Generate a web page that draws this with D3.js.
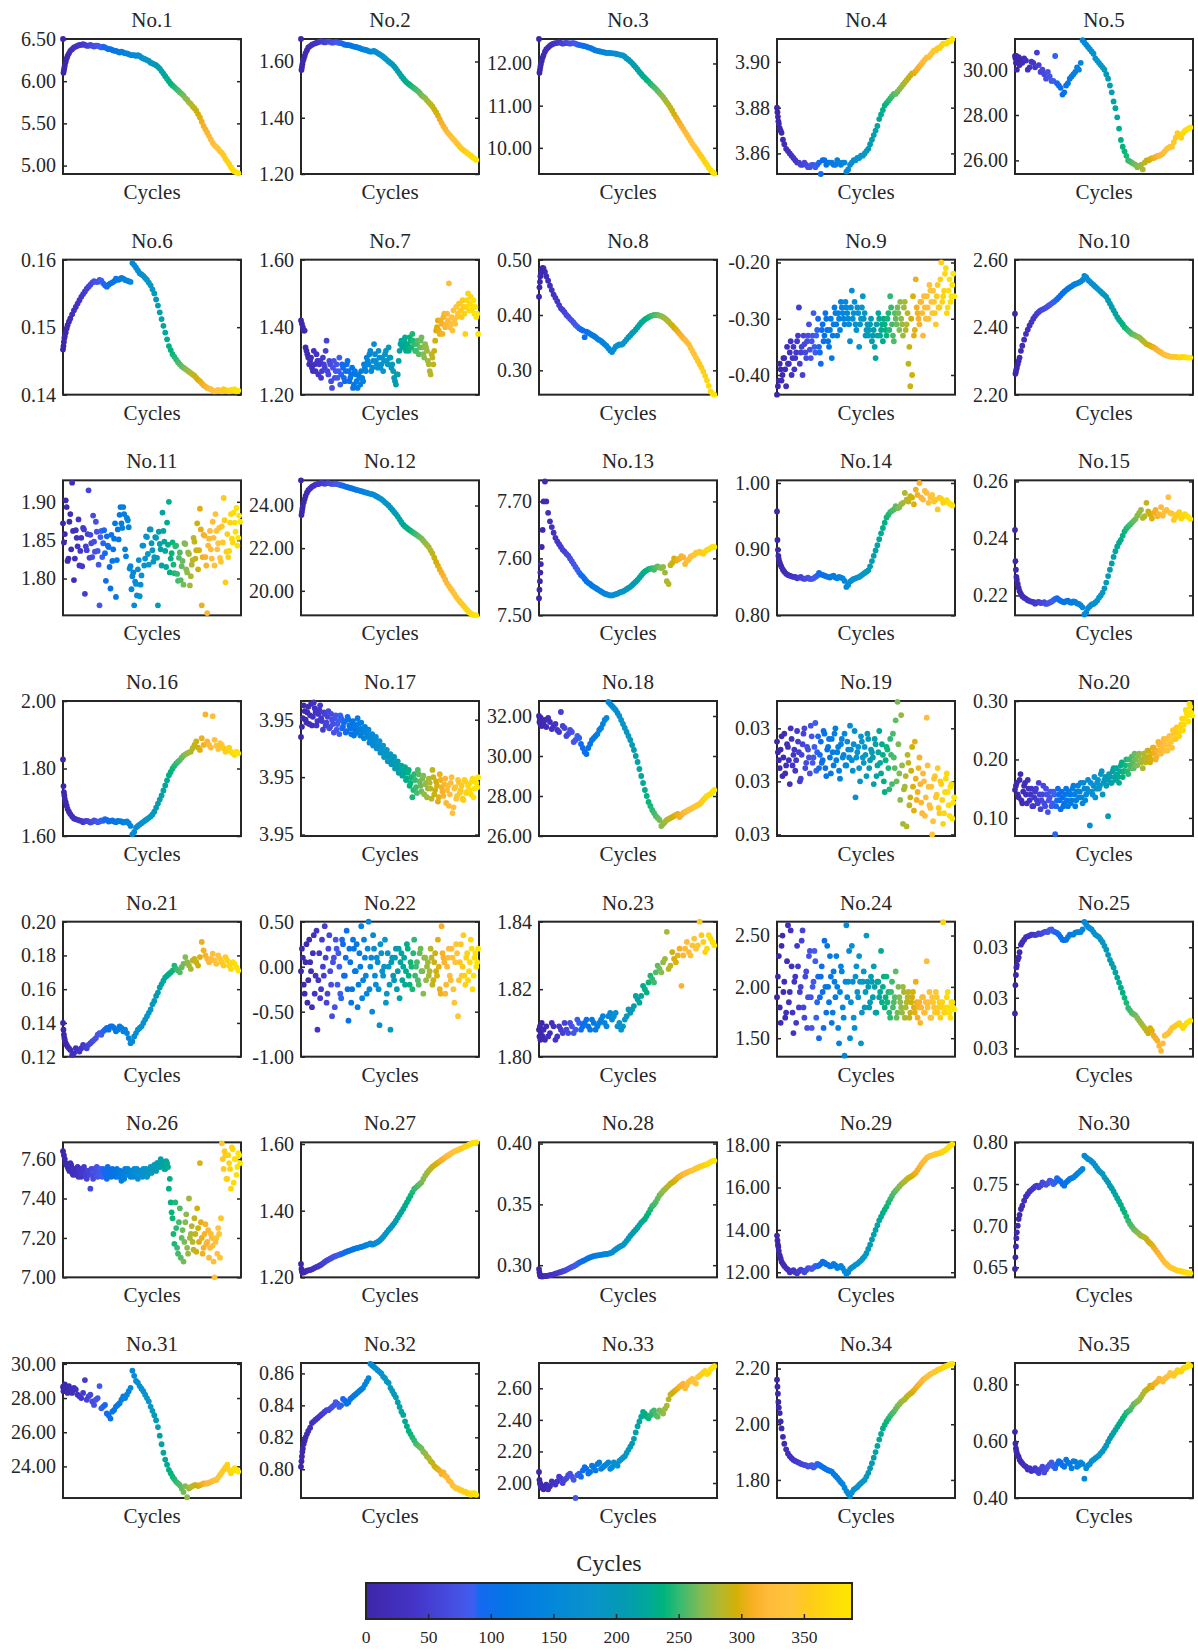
<!DOCTYPE html>
<meta charset="utf-8">
<title>Features vs cycles</title>
<style>
body { margin: 0; background: #fff; }
text { font-family: 'Liberation Serif', 'DejaVu Serif', serif; fill: #262626; }
</style>
<script src="https://d3js.org/d3.v7.min.js"></script>
<div id="chart"></div>
<script>

// sampled cycles (x positions): main grid, in-between grid, dense grids for the noisy panels
var cyc = [0,1,2,3,4,6,8,10,13,16,
  24,32,40,48,56,64,72,80,88,96,
  104,112,120,128,136,144,152,160,168,176,
  184,192,200,208,216,224,232,240,248,256,
  264,272,280,288,296,304,312,320,328,336,
  344,352,360,368,376,384];
var cycMid = [20,28,36,44,52,60,68,76,84,92,
  100,108,116,124,132,140,148,156,164,172,
  180,188,196,204,212,220,228,236,244,252,
  260,268,276,284,292,300,308,316,324,332,
  340,348,356,364,372,380];
var cycDense = [0,4,8,12,16,20,24,28,32,36,
  40,44,48,52,56,60,64,68,72,76,
  80,84,88,92,96,100,104,108,112,116,
  120,124,128,132,136,140,144,148,152,156,
  160,164,168,172,176,180,184,188,192,196,
  200,204,208,212,216,220,224,228,232,236,
  240,244,248,252,256,260,264,268,272,276,
  280,284,288,292,296,300,304,308,312,316,
  320,324,328,332,336,340,344,348,352,356,
  360,364,368,372,376,380,384,388];
var cycDense2 = [2,6,10,14,18,22,26,30,34,38,
  42,46,50,54,58,62,66,70,74,78,
  82,86,90,94,98,102,106,110,114,118,
  122,126,130,134,138,142,146,150,154,158,
  162,166,170,174,178,182,186,190,194,198,
  202,206,210,214,218,222,226,230,234,238,
  242,246,250,254,258,262,266,270,274,278,
  282,286,290,294,298,302,306,310,314,318,
  322,326,330,334,338,342,346,350,354,358,
  362,366,370,374,378,382,386];

var v1 = [6.50,6.10,6.13,6.16,6.19,6.23,6.27,6.30,6.33,6.36,
  6.40,6.42,6.43,6.43,6.42,6.42,6.42,6.41,6.41,6.39,
  6.38,6.36,6.35,6.35,6.33,6.32,6.31,6.30,6.30,6.27,
  6.25,6.22,6.20,6.17,6.12,6.06,6.00,5.95,5.91,5.87,
  5.83,5.78,5.73,5.68,5.61,5.52,5.43,5.35,5.27,5.22,
  5.17,5.12,5.05,4.98,4.93,4.91];
var m1 = [6.38,6.41,6.43,6.44,6.42,6.43,6.41,6.42,6.40,6.40,
  6.38,6.37,6.36,6.34,6.34,6.33,6.31,6.31,6.31,6.28,
  6.26,6.24,6.21,6.19,6.15,6.09,6.03,5.97,5.93,5.89,
  5.85,5.80,5.75,5.70,5.65,5.57,5.47,5.39,5.31,5.24,
  5.20,5.15,5.08,5.02,4.95,4.92];
var v2 = [1.68,1.57,1.58,1.59,1.60,1.61,1.62,1.63,1.64,1.65,
  1.66,1.665,1.67,1.67,1.67,1.67,1.668,1.668,1.665,1.66,
  1.658,1.655,1.652,1.648,1.643,1.64,1.635,1.638,1.63,1.622,
  1.612,1.60,1.59,1.575,1.557,1.54,1.525,1.515,1.505,1.495,
  1.48,1.47,1.455,1.44,1.42,1.395,1.37,1.35,1.335,1.32,
  1.305,1.29,1.28,1.27,1.26,1.25];
var m2 = [1.655,1.663,1.668,1.672,1.668,1.671,1.667,1.669,1.666,1.663,
  1.659,1.657,1.653,1.65,1.645,1.642,1.637,1.636,1.634,1.626,
  1.617,1.606,1.595,1.583,1.566,1.548,1.532,1.52,1.51,1.50,
  1.488,1.475,1.462,1.448,1.43,1.408,1.382,1.36,1.342,1.327,
  1.312,1.297,1.285,1.275,1.265,1.255];
var v3 = [12.58,11.78,11.85,11.92,11.98,12.06,12.14,12.20,12.28,12.34,
  12.42,12.47,12.49,12.49,12.48,12.48,12.48,12.47,12.44,12.42,
  12.40,12.37,12.33,12.30,12.28,12.26,12.25,12.24,12.23,12.21,
  12.19,12.12,12.05,11.96,11.86,11.75,11.66,11.57,11.48,11.40,
  11.30,11.20,11.08,10.95,10.80,10.66,10.52,10.38,10.24,10.10,
  9.98,9.85,9.73,9.60,9.47,9.39];
var m3 = [12.38,12.45,12.48,12.50,12.47,12.49,12.47,12.48,12.45,12.43,
  12.41,12.38,12.35,12.31,12.29,12.27,12.25,12.25,12.24,12.22,
  12.20,12.16,12.09,12.01,11.91,11.80,11.70,11.61,11.52,11.44,
  11.35,11.25,11.14,11.02,10.88,10.73,10.59,10.45,10.31,10.17,
  10.04,9.92,9.79,9.66,9.53,9.43];
var v4 = [3.880,3.878,3.876,3.874,3.873,3.871,3.870,3.869,3.866,3.864,
  3.861,3.859,3.857,3.856,3.855,3.855,3.854,3.855,3.855,3.851,
  3.857,3.856,3.856,3.855,3.856,3.856,3.852,3.855,3.857,3.858,
  3.859,3.860,3.862,3.866,3.870,3.875,3.879,3.882,3.884,3.886,
  3.887,3.889,3.891,3.893,3.895,3.896,3.898,3.900,3.902,3.903,
  3.905,3.906,3.907,3.908,3.909,3.910];
var m4 = [3.862,3.860,3.858,3.856,3.855,3.856,3.854,3.855,3.854,3.856,
  3.857,3.855,3.856,3.855,3.857,3.855,3.856,3.853,3.856,3.857,
  3.858,3.859,3.861,3.864,3.868,3.872,3.877,3.881,3.883,3.885,
  3.886,3.888,3.890,3.892,3.894,3.895,3.897,3.899,3.901,3.902,
  3.904,3.905,3.906,3.908,3.908,3.909];
var v5 = [30.6,30.5,30.3,30.6,30.0,30.4,30.55,30.2,30.45,30.3,
  30.4,30.1,30.3,30.75,29.9,29.8,29.9,29.5,30.6,29.3,
  28.9,29.3,29.6,29.8,30.1,30.3,31.2,31.0,30.8,30.5,
  30.3,30.1,29.8,29.3,28.6,27.9,26.9,26.4,26.0,25.9,
  25.8,25.75,25.6,26.0,26.05,26.1,26.2,26.25,26.4,26.55,
  26.6,27.0,27.1,27.2,27.35,27.45];
var m5 = [30.5,30.0,30.35,30.1,30.2,30.0,29.6,29.7,29.5,29.4,
  29.2,29.0,29.4,29.7,29.9,30.0,31.3,31.1,30.9,30.7,
  30.4,30.2,30.0,29.6,29.0,28.3,27.4,26.6,26.2,25.95,
  25.85,25.7,25.8,25.9,26.0,26.1,26.15,26.2,26.3,26.5,
  26.6,26.8,27.2,27.0,27.3,27.4];
var v6 = [0.1467,0.1472,0.1478,0.1484,0.1487,0.1492,0.1498,0.1503,0.1508,0.1513,
  0.1525,0.1535,0.1545,0.1553,0.1560,0.1566,0.1567,0.1570,0.1565,0.1560,
  0.1565,0.1568,0.1570,0.1573,0.1570,0.1568,0.1595,0.1588,0.1580,0.1576,
  0.1570,0.1562,0.1550,0.1532,0.1512,0.1492,0.1472,0.1460,0.1452,0.1445,
  0.1440,0.1436,0.1432,0.1428,0.1422,0.1417,0.1412,0.1409,0.1406,0.1406,
  0.1406,0.1408,0.1406,0.1407,0.1408,0.1406];
var m6 = [0.1519,0.1530,0.1540,0.1549,0.1557,0.1563,0.1568,0.1567,0.1569,0.1562,
  0.1563,0.1566,0.1572,0.1571,0.1572,0.1569,0.1567,0.1592,0.1584,0.1578,
  0.1573,0.1566,0.1556,0.1541,0.1522,0.1502,0.1482,0.1466,0.1456,0.1448,
  0.1442,0.1438,0.1434,0.1430,0.1425,0.1420,0.1414,0.1410,0.1408,0.1405,
  0.1407,0.1405,0.1407,0.1405,0.1407,0.1405];
var v7 = [1.42,1.40,1.39,1.33,1.31,1.30,1.28,1.33,1.27,1.30,
  1.29,1.25,1.31,1.28,1.36,1.26,1.29,1.22,1.30,1.27,
  1.25,1.31,1.26,1.28,1.24,1.29,1.27,1.25,1.28,1.23,
  1.26,1.22,1.25,1.27,1.24,1.28,1.31,1.29,1.33,1.28,
  1.35,1.30,1.28,1.31,1.29,1.27,1.32,1.30,1.34,1.31,
  1.29,1.25,1.23,1.26,1.33,1.36,1.35,1.37,1.34,1.33,
  1.36,1.38,1.35,1.33,1.36,1.34,1.37,1.32,1.35,1.33,
  1.29,1.26,1.31,1.33,1.39,1.42,1.38,1.41,1.43,1.40,
  1.44,1.53,1.41,1.39,1.42,1.46,1.44,1.47,1.43,1.46,
  1.38,1.48,1.45,1.49,1.46,1.44,1.43,1.38];
var n7 = [1.41,1.39,1.34,1.32,1.29,1.31,1.27,1.29,1.32,1.26,
  1.30,1.27,1.29,1.33,1.27,1.30,1.24,1.28,1.25,1.29,
  1.27,1.23,1.29,1.25,1.27,1.30,1.24,1.26,1.22,1.27,
  1.24,1.26,1.23,1.25,1.29,1.27,1.30,1.32,1.27,1.30,
  1.32,1.29,1.33,1.28,1.31,1.30,1.33,1.29,1.31,1.28,
  1.27,1.24,1.26,1.30,1.35,1.34,1.36,1.33,1.35,1.37,
  1.34,1.36,1.33,1.35,1.32,1.36,1.34,1.31,1.34,1.30,
  1.27,1.32,1.29,1.36,1.40,1.39,1.42,1.38,1.44,1.41,
  1.42,1.40,1.43,1.45,1.41,1.43,1.47,1.45,1.48,1.44,
  1.46,1.50,1.47,1.45,1.48,1.46,1.44];
var v8 = [0.433,0.45,0.46,0.47,0.475,0.482,0.485,0.484,0.478,0.47,
  0.453,0.437,0.425,0.412,0.405,0.397,0.39,0.382,0.376,0.372,
  0.37,0.366,0.362,0.357,0.353,0.347,0.34,0.333,0.343,0.347,
  0.348,0.356,0.363,0.37,0.378,0.386,0.392,0.396,0.399,0.40,
  0.399,0.396,0.391,0.384,0.377,0.37,0.362,0.355,0.347,0.335,
  0.323,0.311,0.298,0.282,0.262,0.256];
var m8 = [0.462,0.445,0.431,0.418,0.409,0.40,0.393,0.386,0.379,0.374,
  0.36,0.368,0.364,0.36,0.355,0.350,0.344,0.336,0.338,0.345,
  0.346,0.352,0.36,0.367,0.374,0.382,0.389,0.394,0.398,0.40,
  0.40,0.398,0.394,0.388,0.381,0.374,0.366,0.358,0.351,0.341,
  0.329,0.317,0.305,0.29,0.272,0.258];
var v9 = [-0.435,-0.41,-0.39,-0.40,-0.37,-0.42,-0.38,-0.36,-0.40,-0.35,
  -0.37,-0.34,-0.28,-0.36,-0.40,-0.345,-0.37,-0.33,-0.355,-0.34,
  -0.29,-0.36,-0.32,-0.35,-0.38,-0.31,-0.33,-0.30,-0.34,-0.32,
  -0.37,-0.31,-0.29,-0.33,-0.30,-0.27,-0.29,-0.31,-0.28,-0.30,
  -0.34,-0.25,-0.29,-0.31,-0.28,-0.35,-0.30,-0.26,-0.29,-0.32,
  -0.33,-0.31,-0.34,-0.32,-0.37,-0.33,-0.30,-0.32,-0.34,-0.31,
  -0.33,-0.29,-0.26,-0.31,-0.34,-0.30,-0.28,-0.32,-0.30,-0.33,
  -0.27,-0.31,-0.38,-0.42,-0.40,-0.33,-0.23,-0.29,-0.31,-0.27,
  -0.33,-0.28,-0.26,-0.30,-0.25,-0.29,-0.27,-0.31,-0.24,-0.28,
  -0.20,-0.26,-0.22,-0.29,-0.25,-0.27,-0.24,-0.26];
var n9 = [-0.42,-0.38,-0.41,-0.37,-0.39,-0.35,-0.38,-0.34,-0.37,-0.39,
  -0.36,-0.33,-0.38,-0.35,-0.33,-0.36,-0.34,-0.31,-0.37,-0.33,
  -0.35,-0.33,-0.30,-0.36,-0.32,-0.34,-0.29,-0.32,-0.35,-0.30,
  -0.33,-0.28,-0.31,-0.29,-0.32,-0.28,-0.30,-0.27,-0.29,-0.31,
  -0.28,-0.30,-0.27,-0.32,-0.29,-0.31,-0.28,-0.30,-0.33,-0.31,
  -0.32,-0.30,-0.33,-0.35,-0.31,-0.29,-0.33,-0.31,-0.30,-0.32,
  -0.30,-0.32,-0.28,-0.33,-0.29,-0.31,-0.29,-0.27,-0.31,-0.28,
  -0.32,-0.29,-0.35,-0.30,-0.26,-0.32,-0.28,-0.30,-0.27,-0.29,
  -0.26,-0.30,-0.28,-0.24,-0.27,-0.25,-0.29,-0.26,-0.28,-0.23,
  -0.27,-0.25,-0.21,-0.28,-0.23,-0.26,-0.22];
var v10 = [2.44,2.262,2.268,2.275,2.28,2.29,2.30,2.31,2.33,2.345,
  2.38,2.405,2.425,2.44,2.45,2.455,2.462,2.47,2.478,2.488,
  2.50,2.51,2.518,2.525,2.53,2.535,2.552,2.54,2.53,2.52,
  2.51,2.50,2.49,2.47,2.45,2.43,2.415,2.40,2.39,2.38,
  2.375,2.37,2.36,2.35,2.345,2.34,2.332,2.325,2.318,2.315,
  2.312,2.312,2.31,2.312,2.31,2.31];
var m10 = [2.363,2.393,2.415,2.433,2.445,2.452,2.458,2.466,2.474,2.483,
  2.494,2.505,2.514,2.521,2.528,2.532,2.54,2.548,2.535,2.525,
  2.515,2.505,2.495,2.48,2.46,2.44,2.422,2.408,2.395,2.385,
  2.378,2.372,2.365,2.355,2.348,2.342,2.336,2.328,2.321,2.316,
  2.313,2.312,2.311,2.311,2.311,2.31];
var v11 = [1.872,1.858,1.893,1.826,1.884,1.925,1.798,1.863,1.842,1.817,
  1.853,1.866,1.78,1.837,1.915,1.857,1.828,1.848,1.874,1.836,
  1.765,1.862,1.846,1.833,1.855,1.841,1.787,1.823,1.852,1.776,
  1.864,1.883,1.872,1.893,1.838,1.879,1.867,1.816,1.803,1.765,
  1.793,1.812,1.777,1.804,1.843,1.826,1.854,1.818,1.864,1.837,
  1.828,1.853,1.765,1.845,1.817,1.862,1.836,1.873,1.90,1.826,
  1.847,1.807,1.843,1.797,1.834,1.816,1.792,1.845,1.808,1.832,
  1.803,1.824,1.848,1.837,1.812,1.891,1.765,1.857,1.828,1.755,
  1.852,1.838,1.874,1.817,1.862,1.846,1.827,1.868,1.905,1.795,
  1.858,1.836,1.884,1.847,1.873,1.892,1.853,1.874];
var n11 = [1.847,1.902,1.823,1.874,1.838,1.862,1.826,1.853,1.877,1.836,
  1.816,1.864,1.842,1.858,1.827,1.846,1.882,1.835,1.861,1.818,
  1.854,1.828,1.863,1.797,1.843,1.815,1.857,1.838,1.872,1.824,
  1.851,1.893,1.866,1.884,1.829,1.876,1.813,1.786,1.808,1.796,
  1.778,1.824,1.792,1.843,1.817,1.855,1.832,1.864,1.846,1.822,
  1.854,1.827,1.861,1.838,1.886,1.848,1.815,1.844,1.808,1.833,
  1.818,1.842,1.806,1.827,1.798,1.823,1.846,1.812,1.834,1.791,
  1.818,1.853,1.826,1.872,1.837,1.864,1.828,1.856,1.817,1.843,
  1.862,1.826,1.853,1.884,1.838,1.866,1.822,1.847,1.876,1.835,
  1.828,1.873,1.852,1.886,1.861,1.843,1.882];
var v12 = [25.18,23.55,23.70,23.85,23.98,24.15,24.30,24.45,24.60,24.72,
  24.88,24.98,25.02,25.04,25.04,25.03,25.02,25.00,24.95,24.90,
  24.85,24.80,24.74,24.70,24.65,24.60,24.55,24.50,24.40,24.30,
  24.15,24.00,23.80,23.60,23.35,23.10,22.95,22.82,22.70,22.58,
  22.45,22.25,22.05,21.75,21.35,21.00,20.70,20.35,20.10,19.85,
  19.60,19.40,19.20,19.00,18.88,18.85];
var m12 = [24.80,24.93,25.00,25.06,25.02,25.05,25.01,25.02,24.97,24.93,
  24.87,24.82,24.77,24.72,24.67,24.62,24.57,24.53,24.45,24.35,
  24.23,24.08,23.90,23.70,23.48,23.22,23.02,22.88,22.76,22.64,
  22.52,22.35,22.15,21.90,21.55,21.18,20.85,20.52,20.22,19.98,
  19.72,19.50,19.30,19.10,18.94,18.86];
var v13 = [7.53,7.545,7.56,7.575,7.59,7.62,7.65,7.70,7.735,7.70,
  7.665,7.645,7.63,7.62,7.612,7.605,7.595,7.585,7.575,7.568,
  7.56,7.555,7.55,7.546,7.542,7.538,7.536,7.535,7.537,7.54,
  7.542,7.546,7.55,7.556,7.562,7.57,7.577,7.581,7.583,7.584,
  7.584,7.585,7.56,7.588,7.60,7.598,7.604,7.59,7.598,7.605,
  7.61,7.612,7.608,7.615,7.618,7.62];
var m13 = [7.68,7.655,7.636,7.625,7.615,7.608,7.60,7.59,7.58,7.571,
  7.564,7.557,7.552,7.548,7.544,7.54,7.537,7.535,7.536,7.538,
  7.541,7.544,7.548,7.553,7.559,7.566,7.574,7.579,7.582,7.58,
  7.586,7.583,7.575,7.555,7.592,7.596,7.60,7.602,7.596,7.603,
  7.606,7.61,7.61,7.612,7.616,7.62];
var v14 = [0.957,0.914,0.899,0.89,0.885,0.88,0.876,0.873,0.869,0.866,
  0.861,0.859,0.858,0.857,0.856,0.856,0.855,0.856,0.86,0.862,
  0.86,0.858,0.859,0.857,0.858,0.856,0.843,0.851,0.855,0.857,
  0.86,0.864,0.868,0.882,0.898,0.915,0.932,0.948,0.956,0.96,
  0.962,0.968,0.985,0.972,0.978,0.99,1.0,0.975,0.985,0.978,
  0.972,0.96,0.976,0.972,0.97,0.966];
var m14 = [0.863,0.86,0.858,0.856,0.858,0.855,0.857,0.855,0.858,0.864,
  0.861,0.859,0.857,0.86,0.856,0.857,0.852,0.846,0.853,0.856,
  0.858,0.862,0.866,0.874,0.89,0.906,0.924,0.94,0.952,0.958,
  0.965,0.963,0.97,0.975,0.98,0.968,0.982,0.978,0.988,0.97,
  0.982,0.975,0.978,0.97,0.974,0.968];
var v15 = [0.243,0.232,0.229,0.2265,0.2255,0.224,0.2226,0.2215,0.2205,0.2197,
  0.2188,0.218,0.2177,0.2175,0.2173,0.2176,0.2172,0.2178,0.2188,0.2185,
  0.2178,0.218,0.2176,0.2179,0.2172,0.2165,0.2133,0.2155,0.2168,0.2175,
  0.2192,0.221,0.2245,0.229,0.2335,0.2372,0.2395,0.2425,0.2442,0.2455,
  0.2468,0.249,0.2472,0.2525,0.2485,0.249,0.2478,0.251,0.2495,0.2545,
  0.2487,0.2475,0.2492,0.2478,0.248,0.2468];
var m15 = [0.2192,0.2183,0.2178,0.2171,0.2177,0.2174,0.2170,0.2175,0.2183,0.2190,
  0.2181,0.2176,0.2182,0.2174,0.2177,0.2170,0.2158,0.2140,0.2162,0.2170,
  0.2182,0.2200,0.2225,0.2268,0.2312,0.2355,0.2385,0.2410,0.2435,0.2448,
  0.2462,0.2480,0.2500,0.2478,0.2495,0.2470,0.2500,0.2485,0.2480,0.2500,
  0.2490,0.2465,0.2485,0.2470,0.2485,0.2475];
var v16 = [1.827,1.748,1.73,1.72,1.71,1.70,1.69,1.68,1.672,1.665,
  1.652,1.648,1.645,1.644,1.643,1.642,1.644,1.643,1.645,1.648,
  1.645,1.643,1.645,1.643,1.642,1.638,1.605,1.625,1.634,1.642,
  1.65,1.658,1.672,1.696,1.72,1.75,1.78,1.80,1.815,1.825,
  1.838,1.845,1.85,1.87,1.862,1.89,1.96,1.87,1.955,1.868,
  1.875,1.86,1.855,1.85,1.84,1.845];
var m16 = [1.658,1.65,1.646,1.641,1.645,1.640,1.646,1.641,1.646,1.650,
  1.643,1.646,1.641,1.644,1.640,1.643,1.630,1.612,1.630,1.638,
  1.646,1.654,1.664,1.684,1.708,1.735,1.765,1.79,1.808,1.82,
  1.832,1.842,1.848,1.86,1.88,1.855,1.87,1.88,1.862,1.885,
  1.858,1.87,1.85,1.862,1.845,1.85];
var v17 = [3.9528,3.9541,3.9546,3.9538,3.9549,3.9543,3.9536,3.9552,3.9545,3.9539,
  3.9547,3.9541,3.9533,3.9544,3.9538,3.9546,3.9535,3.9540,3.9531,3.9543,
  3.9537,3.9530,3.9541,3.9535,3.9539,3.9532,3.9540,3.9534,3.9537,3.9529,
  3.9536,3.9541,3.9533,3.9538,3.9531,3.9535,3.9528,3.9533,3.9526,3.9530,
  3.9524,3.9528,3.9521,3.9525,3.9518,3.9522,3.9515,3.9519,3.9512,3.9516,
  3.9510,3.9514,3.9507,3.9511,3.9504,3.9508,3.9502,3.9507,3.9499,3.9505,
  3.9496,3.9486,3.9502,3.9493,3.9505,3.9497,3.9490,3.9501,3.9495,3.9486,
  3.9499,3.9492,3.9505,3.9488,3.9497,3.9483,3.9502,3.9493,3.9487,3.9499,
  3.9491,3.9480,3.9496,3.9475,3.9492,3.9485,3.9498,3.9489,3.9494,3.9484,
  3.9497,3.9490,3.9495,3.9488,3.9499,3.9492,3.9496,3.9500];
var n17 = [3.9535,3.9550,3.9540,3.9545,3.9537,3.9551,3.9542,3.9548,3.9536,3.9544,
  3.9550,3.9539,3.9545,3.9536,3.9542,3.9534,3.9544,3.9537,3.9541,3.9533,
  3.9539,3.9543,3.9534,3.9538,3.9531,3.9542,3.9536,3.9530,3.9539,3.9533,
  3.9531,3.9537,3.9529,3.9534,3.9527,3.9532,3.9530,3.9524,3.9529,3.9522,
  3.9526,3.9520,3.9523,3.9517,3.9521,3.9514,3.9518,3.9511,3.9515,3.9509,
  3.9512,3.9506,3.9510,3.9503,3.9507,3.9501,3.9505,3.9498,3.9503,3.9494,
  3.9500,3.9491,3.9498,3.9489,3.9502,3.9494,3.9499,3.9488,3.9496,3.9492,
  3.9496,3.9485,3.9500,3.9491,3.9494,3.9486,3.9498,3.9490,3.9495,3.9482,
  3.9494,3.9488,3.9500,3.9479,3.9493,3.9487,3.9496,3.9491,3.9485,3.9498,
  3.9489,3.9494,3.9491,3.9497,3.9486,3.9498,3.9493];
var v18 = [32.0,31.7,31.85,31.6,31.9,31.5,31.75,31.6,31.8,31.45,
  31.7,31.5,31.3,32.2,31.4,31.1,31.2,30.8,30.9,30.4,
  30.1,30.6,30.9,31.1,31.4,31.8,32.7,32.5,32.3,32.0,
  31.6,31.2,30.8,30.3,29.7,29.0,28.3,27.7,27.3,27.0,
  26.8,26.6,26.8,26.9,27.0,27.1,27.05,27.2,27.3,27.4,
  27.5,27.6,27.8,28.0,28.1,28.3];
var m18 = [31.9,31.35,31.6,31.2,31.5,31.0,31.3,30.7,31.0,30.6,
  30.2,30.4,30.8,31.0,31.3,31.6,31.9,32.6,32.4,32.15,
  31.8,31.4,31.0,30.55,30.0,29.35,28.65,28.0,27.5,27.15,
  26.9,26.5,26.7,26.85,26.95,27.05,26.95,27.15,27.25,27.35,
  27.45,27.55,27.7,27.9,28.05,28.2];
var v19 = [0.0315,0.0308,0.0312,0.0302,0.0318,0.0306,0.0313,0.0299,0.0316,0.0310,
  0.0304,0.0319,0.0311,0.0301,0.0314,0.0320,0.0307,0.0312,0.0303,0.0317,
  0.0309,0.0322,0.0311,0.0305,0.0315,0.0308,0.0318,0.0302,0.0313,0.0309,
  0.0316,0.0306,0.0320,0.0311,0.0304,0.0314,0.0309,0.0318,0.0306,0.0312,
  0.0321,0.0308,0.0314,0.0294,0.0311,0.0305,0.0317,0.0309,0.0313,0.0302,
  0.0316,0.0308,0.0311,0.0299,0.0314,0.0306,0.0319,0.0303,0.0310,0.0296,
  0.0313,0.0305,0.0316,0.0299,0.0309,0.0323,0.0330,0.0303,0.0325,0.0284,
  0.0298,0.0283,0.0307,0.0294,0.0313,0.0289,0.0301,0.0296,0.0309,0.0292,
  0.0303,0.0287,0.0324,0.0298,0.0290,0.0280,0.0301,0.0294,0.0305,0.0288,
  0.0299,0.0284,0.0296,0.0303,0.0291,0.0298,0.0286,0.0294];
var n19 = [0.0311,0.0305,0.0317,0.0309,0.0303,0.0314,0.0308,0.0320,0.0306,0.0312,
  0.0308,0.0315,0.0300,0.0310,0.0318,0.0305,0.0313,0.0309,0.0321,0.0307,
  0.0313,0.0304,0.0317,0.0310,0.0307,0.0319,0.0305,0.0312,0.0316,0.0303,
  0.0311,0.0318,0.0308,0.0313,0.0301,0.0316,0.0310,0.0306,0.0315,0.0309,
  0.0312,0.0304,0.0319,0.0309,0.0313,0.0300,0.0315,0.0307,0.0310,0.0318,
  0.0305,0.0312,0.0309,0.0316,0.0302,0.0311,0.0307,0.0314,0.0300,0.0308,
  0.0312,0.0297,0.0310,0.0318,0.0305,0.0300,0.0314,0.0293,0.0306,0.0297,
  0.0302,0.0310,0.0291,0.0304,0.0298,0.0315,0.0293,0.0305,0.0299,0.0288,
  0.0300,0.0294,0.0306,0.0291,0.0298,0.0285,0.0302,0.0295,0.0290,0.0300,
  0.0293,0.0288,0.0301,0.0296,0.0287,0.0299,0.0292];
var v20 = [0.148,0.16,0.135,0.175,0.125,0.155,0.14,0.165,0.13,0.15,
  0.12,0.145,0.13,0.16,0.115,0.14,0.125,0.15,0.11,0.135,
  0.12,0.145,0.072,0.13,0.14,0.115,0.135,0.125,0.15,0.12,
  0.14,0.13,0.155,0.12,0.145,0.135,0.16,0.125,0.15,0.14,
  0.165,0.087,0.145,0.155,0.135,0.16,0.15,0.175,0.14,0.165,
  0.155,0.103,0.17,0.16,0.185,0.165,0.175,0.16,0.19,0.17,
  0.18,0.2,0.175,0.19,0.205,0.185,0.2,0.19,0.21,0.195,
  0.185,0.205,0.2,0.215,0.195,0.21,0.22,0.2,0.215,0.225,
  0.21,0.23,0.215,0.235,0.225,0.24,0.22,0.245,0.235,0.25,
  0.24,0.26,0.25,0.27,0.28,0.265,0.29,0.275];
var n20 = [0.155,0.14,0.165,0.13,0.145,0.16,0.125,0.15,0.14,0.12,
  0.135,0.15,0.125,0.14,0.13,0.155,0.12,0.14,0.13,0.145,
  0.125,0.14,0.12,0.15,0.13,0.145,0.12,0.14,0.13,0.145,
  0.125,0.15,0.14,0.13,0.155,0.145,0.135,0.16,0.13,0.15,
  0.145,0.16,0.14,0.17,0.15,0.165,0.155,0.18,0.16,0.17,
  0.165,0.175,0.16,0.18,0.17,0.185,0.17,0.18,0.195,0.18,
  0.19,0.18,0.2,0.185,0.195,0.21,0.19,0.205,0.195,0.2,
  0.21,0.195,0.215,0.205,0.2,0.22,0.21,0.205,0.23,0.215,
  0.22,0.235,0.225,0.215,0.24,0.23,0.25,0.235,0.255,0.245,
  0.255,0.27,0.26,0.285,0.275,0.295,0.28];
var v21 = [0.140,0.136,0.133,0.131,0.130,0.128,0.127,0.126,0.125,0.124,
  0.122,0.124,0.125,0.126,0.127,0.129,0.131,0.134,0.135,0.137,
  0.138,0.137,0.136,0.137,0.136,0.131,0.129,0.134,0.137,0.140,
  0.144,0.148,0.153,0.158,0.163,0.167,0.169,0.171,0.172,0.170,
  0.175,0.176,0.172,0.178,0.174,0.188,0.180,0.176,0.181,0.175,
  0.178,0.174,0.177,0.172,0.175,0.171];
var m21 = [0.121,0.125,0.123,0.127,0.125,0.128,0.130,0.133,0.133,0.136,
  0.136,0.138,0.135,0.138,0.135,0.134,0.128,0.132,0.136,0.138,
  0.142,0.146,0.151,0.156,0.161,0.165,0.168,0.170,0.174,0.171,
  0.173,0.179,0.174,0.177,0.176,0.179,0.183,0.178,0.178,0.177,
  0.180,0.176,0.179,0.174,0.176,0.173];
var v22 = [-0.05,0.1,-0.3,0.25,-0.15,0.05,-0.45,0.35,-0.1,-0.7,
  0.15,-0.25,0.0,0.45,-0.4,0.2,-0.05,-0.55,0.1,0.3,
  -0.2,0.0,-0.35,0.25,-0.1,0.4,-0.6,0.05,-0.25,0.2,
  -0.05,-0.45,0.15,0.45,-0.15,0.1,-0.3,0.5,0.0,-0.5,
  0.2,-0.2,0.05,-0.65,0.15,-0.1,0.3,-0.3,0.0,-0.7,
  0.1,-0.15,0.2,-0.05,-0.35,0.15,0.0,-0.2,0.25,-0.1,
  0.05,-0.25,0.3,0.0,-0.15,0.15,-0.05,-0.3,0.1,0.0,
  -0.1,0.2,-0.2,0.05,-0.05,0.3,-0.25,0.45,0.1,-0.3,
  0.0,0.2,-0.15,0.1,-0.4,0.25,-0.55,0.05,-0.1,0.35,
  -0.2,0.15,-0.05,0.3,-0.25,0.1,0.0,0.2];
var n22 = [0.2,-0.2,0.05,-0.4,0.3,-0.05,0.15,-0.3,0.4,-0.15,
  -0.35,0.3,-0.1,0.1,-0.3,0.35,-0.2,0.05,-0.45,0.2,
  0.15,-0.3,0.3,-0.1,0.1,-0.25,0.2,-0.4,0.3,-0.05,
  0.25,-0.2,0.0,-0.35,0.3,-0.1,0.2,-0.25,0.1,0.35,
  -0.1,0.1,-0.25,0.25,-0.05,0.0,-0.4,0.15,-0.2,0.05,
  -0.1,0.1,-0.25,0.2,0.05,-0.15,0.1,-0.05,0.2,-0.2,
  0.0,0.15,-0.1,0.05,-0.2,0.2,-0.05,0.1,-0.15,0.05,
  -0.05,0.1,-0.15,0.15,-0.1,0.0,-0.3,0.15,0.05,-0.2,
  0.1,-0.1,0.2,-0.25,0.05,0.15,-0.15,0.25,0.0,-0.1,
  0.1,-0.15,0.05,0.2,-0.1,0.15,0.05];
var v23 = [1.808,1.806,1.809,1.805,1.807,1.810,1.806,1.808,1.805,1.809,
  1.807,1.809,1.806,1.808,1.810,1.807,1.809,1.808,1.810,1.809,
  1.811,1.808,1.810,1.809,1.811,1.810,1.812,1.811,1.813,1.810,
  1.809,1.812,1.813,1.815,1.817,1.818,1.820,1.822,1.823,1.825,
  1.826,1.828,1.837,1.827,1.829,1.830,1.821,1.832,1.831,1.833,
  1.832,1.840,1.834,1.832,1.835,1.833];
var m23 = [1.806,1.810,1.805,1.809,1.807,1.808,1.810,1.807,1.811,1.808,
  1.810,1.809,1.811,1.808,1.810,1.812,1.809,1.813,1.812,1.809,
  1.808,1.811,1.814,1.814,1.818,1.816,1.821,1.819,1.824,1.822,
  1.827,1.825,1.829,1.826,1.831,1.828,1.832,1.830,1.834,1.830,
  1.835,1.833,1.836,1.831,1.836,1.834];
var v24 = [1.9,2.3,1.65,2.5,2.05,1.75,2.6,1.95,2.2,1.55,
  2.1,2.4,1.8,2.0,2.55,1.7,2.15,1.9,2.35,1.6,
  2.05,2.25,1.85,1.5,2.1,1.95,2.45,1.75,2.0,2.3,
  1.65,2.15,1.9,2.0,1.45,2.2,1.8,1.33,2.6,2.05,
  1.5,2.4,1.7,2.1,1.95,2.3,1.45,2.05,1.8,2.5,
  2.0,1.85,2.05,2.2,1.75,2.05,1.9,2.35,2.0,1.8,
  2.1,1.95,1.7,2.05,1.85,2.15,1.75,1.9,1.8,2.0,
  1.7,1.85,1.95,1.75,1.9,1.8,2.05,1.7,1.85,1.8,
  1.9,1.75,2.25,1.85,1.7,1.9,1.8,1.95,1.75,1.85,
  1.8,2.63,1.75,1.9,1.8,1.7,1.85,1.78];
var n24 = [2.1,1.8,2.4,1.95,1.7,2.25,1.85,2.55,1.75,2.05,
  1.65,2.2,1.95,2.45,1.8,2.1,1.6,2.3,1.9,2.0,
  2.35,1.7,2.1,1.9,2.2,1.6,2.0,2.4,1.85,2.1,
  1.75,2.05,2.3,1.6,1.95,2.15,1.7,2.05,1.9,2.35,
  1.85,2.05,1.6,2.2,1.9,2.05,1.75,2.15,1.95,2.05,
  1.8,2.1,1.9,2.0,1.75,2.05,1.95,1.85,2.1,1.9,
  1.85,1.75,1.95,1.8,1.9,1.7,2.0,1.85,1.75,1.95,
  1.8,1.9,1.7,1.85,1.95,1.75,1.85,1.8,1.65,1.9,
  1.75,1.85,1.8,1.95,1.7,1.85,1.75,1.9,1.8,1.7,
  1.85,1.75,1.8,1.95,1.75,1.85,1.8];
var v25 = [0.02838,0.0295,0.0299,0.0302,0.0303,0.0305,0.0306,0.0308,0.0311,0.0312,
  0.0314,0.03146,0.0315,0.0315,0.03152,0.0316,0.0316,0.0317,0.0316,0.0315,
  0.0313,0.0313,0.0315,0.0315,0.0316,0.0316,0.0320,0.0318,0.0317,0.0315,
  0.0314,0.0312,0.0309,0.0305,0.0302,0.0298,0.0294,0.0290,0.0286,0.0284,
  0.0283,0.0281,0.0279,0.0277,0.0278,0.0275,0.0273,0.0269,0.0275,0.0276,
  0.0278,0.0279,0.0280,0.0278,0.0280,0.0281];
var m25 = [0.0313,0.03143,0.0315,0.03148,0.03155,0.03156,0.03162,0.03168,0.03163,0.03157,
  0.0314,0.03128,0.0314,0.0315,0.03158,0.0316,0.0317,0.0319,0.03175,0.0316,
  0.03145,0.0313,0.03105,0.0307,0.03035,0.0300,0.0296,0.0292,0.0288,0.0285,
  0.02835,0.0282,0.0280,0.0278,0.0276,0.0277,0.0274,0.0271,0.0272,0.02755,
  0.0277,0.02785,0.02795,0.0279,0.0279,0.02805];
var v26 = [7.64,7.60,7.57,7.55,7.58,7.53,7.55,7.52,7.56,7.54,
  7.51,7.55,7.53,7.50,7.54,7.45,7.52,7.55,7.53,7.51,
  7.54,7.52,7.55,7.53,7.50,7.54,7.52,7.55,7.53,7.51,
  7.54,7.52,7.49,7.53,7.55,7.52,7.54,7.51,7.53,7.55,
  7.52,7.50,7.54,7.52,7.55,7.53,7.51,7.54,7.56,7.55,
  7.57,7.54,7.58,7.56,7.59,7.57,7.55,7.58,7.45,7.38,
  7.30,7.17,7.25,7.12,7.35,7.20,7.08,7.28,7.15,7.40,
  7.22,7.18,7.30,7.13,7.25,7.58,7.20,7.15,7.27,7.18,
  7.10,7.22,7.16,7.00,7.20,7.25,7.10,7.68,7.55,7.62,
  7.50,7.58,7.45,7.65,7.60,7.52,7.63,7.58];
var n26 = [7.62,7.58,7.56,7.54,7.57,7.52,7.55,7.53,7.51,7.55,
  7.53,7.56,7.51,7.54,7.52,7.55,7.50,7.53,7.56,7.52,
  7.55,7.51,7.54,7.52,7.56,7.53,7.51,7.54,7.52,7.55,
  7.51,7.54,7.52,7.50,7.53,7.55,7.52,7.54,7.51,7.53,
  7.55,7.52,7.54,7.51,7.53,7.55,7.52,7.54,7.53,7.56,
  7.55,7.58,7.56,7.60,7.57,7.55,7.59,7.56,7.50,7.33,
  7.22,7.38,7.15,7.28,7.10,7.24,7.18,7.32,7.12,7.20,
  7.26,7.14,7.22,7.35,7.18,7.28,7.12,7.22,7.17,7.24,
  7.15,7.20,7.08,7.18,7.12,7.22,7.30,7.60,7.64,7.50,
  7.62,7.55,7.66,7.48,7.60,7.56,7.62];
var v27 = [1.24,1.225,1.218,1.215,1.214,1.215,1.216,1.218,1.22,1.221,
  1.224,1.23,1.235,1.242,1.25,1.256,1.262,1.266,1.27,1.275,
  1.279,1.283,1.287,1.29,1.293,1.297,1.302,1.30,1.306,1.315,
  1.328,1.342,1.355,1.37,1.388,1.405,1.425,1.445,1.465,1.475,
  1.485,1.505,1.52,1.532,1.54,1.548,1.556,1.564,1.571,1.578,
  1.582,1.587,1.592,1.598,1.603,1.605];
var m27 = [1.222,1.227,1.232,1.238,1.246,1.253,1.259,1.264,1.268,1.272,
  1.277,1.281,1.285,1.288,1.291,1.295,1.299,1.298,1.303,1.31,
  1.321,1.335,1.348,1.362,1.379,1.396,1.415,1.435,1.455,1.47,
  1.48,1.495,1.513,1.526,1.536,1.544,1.552,1.56,1.567,1.575,
  1.58,1.585,1.59,1.595,1.6,1.604];
var v28 = [0.2968,0.294,0.292,0.2912,0.291,0.2908,0.2908,0.291,0.291,0.2912,
  0.2918,0.2925,0.2935,0.2945,0.2955,0.297,0.2985,0.300,0.302,0.3035,
  0.305,0.3065,0.3075,0.308,0.3085,0.309,0.3095,0.3105,0.313,0.315,
  0.3165,0.32,0.324,0.3275,0.331,0.335,0.338,0.343,0.3485,0.352,
  0.3575,0.361,0.364,0.367,0.369,0.372,0.374,0.3755,0.377,0.378,
  0.3795,0.381,0.382,0.383,0.385,0.386];
var m28 = [0.2915,0.2921,0.293,0.294,0.295,0.2962,0.2978,0.2992,0.301,0.3028,
  0.3042,0.3058,0.307,0.3078,0.3083,0.3088,0.3092,0.31,0.3118,0.314,
  0.3158,0.3182,0.322,0.3258,0.3292,0.333,0.3365,0.3405,0.3458,0.350,
  0.3548,0.3592,0.3625,0.3655,0.368,0.3705,0.373,0.3748,0.3762,0.3775,
  0.3788,0.3802,0.3815,0.3825,0.384,0.3855];
var v29 = [13.73,13.5,13.3,13.2,13.0,12.8,12.65,12.5,12.4,12.3,
  12.12,12.05,12.0,12.05,12.08,12.1,12.18,12.22,12.28,12.4,
  12.45,12.35,12.3,12.32,12.25,12.2,11.92,12.15,12.28,12.4,
  12.55,12.75,13.1,13.55,14.0,14.45,14.8,15.1,15.45,15.75,
  15.95,16.15,16.3,16.45,16.55,16.7,16.95,17.2,17.4,17.5,
  17.55,17.6,17.65,17.75,17.9,18.05];
var m29 = [12.2,12.0,12.1,11.95,12.12,12.0,12.2,12.15,12.3,12.32,
  12.5,12.38,12.28,12.4,12.2,12.3,12.05,12.0,12.22,12.35,
  12.48,12.65,12.9,13.3,13.78,14.22,14.62,14.95,15.28,15.6,
  15.85,16.05,16.22,16.38,16.5,16.62,16.82,17.08,17.3,17.45,
  17.52,17.58,17.62,17.7,17.82,17.98];
var v30 = [0.648,0.662,0.675,0.685,0.692,0.70,0.708,0.713,0.72,0.724,
  0.735,0.741,0.745,0.748,0.748,0.75,0.751,0.753,0.752,0.755,
  0.75,0.752,0.756,0.758,0.762,0.766,0.784,0.78,0.777,0.772,
  0.766,0.762,0.755,0.748,0.741,0.733,0.725,0.716,0.706,0.699,
  0.694,0.69,0.687,0.684,0.679,0.674,0.668,0.662,0.656,0.652,
  0.649,0.647,0.646,0.645,0.644,0.643];
var m30 = [0.73,0.738,0.743,0.747,0.746,0.752,0.749,0.754,0.75,0.757,
  0.753,0.748,0.754,0.757,0.76,0.764,0.768,0.782,0.779,0.775,
  0.769,0.764,0.758,0.752,0.745,0.737,0.729,0.72,0.711,0.702,
  0.696,0.692,0.688,0.686,0.681,0.677,0.671,0.665,0.659,0.654,
  0.65,0.648,0.646,0.645,0.644,0.643];
var v31 = [28.65,28.4,28.7,28.5,28.8,28.55,28.6,28.3,28.7,28.5,
  28.6,28.2,28.0,29.05,28.1,27.8,27.9,28.7,27.5,27.1,
  26.8,27.3,27.6,27.9,28.0,28.4,29.6,29.0,28.7,28.4,
  28.0,27.5,27.0,26.3,25.3,24.4,23.8,23.4,23.1,22.9,
  22.5,22.2,22.8,22.9,22.85,22.95,23.0,23.05,23.15,23.2,
  23.5,23.8,24.1,23.6,23.9,23.7];
var m31 = [28.3,28.5,28.1,28.3,27.9,28.2,27.6,28.0,27.4,27.6,
  27.0,27.2,27.5,27.7,28.1,28.2,28.6,29.3,28.9,28.55,
  28.2,27.8,27.25,26.7,25.8,24.8,24.1,23.6,23.25,23.0,
  22.7,22.85,22.7,22.85,22.9,22.9,23.0,23.0,23.1,23.2,
  23.35,23.65,23.95,23.8,23.75,23.8];
var v32 = [0.8016,0.805,0.808,0.811,0.813,0.816,0.818,0.82,0.822,0.824,
  0.829,0.831,0.833,0.835,0.837,0.838,0.84,0.841,0.84,0.843,
  0.842,0.845,0.847,0.849,0.851,0.855,0.866,0.864,0.862,0.86,
  0.857,0.854,0.849,0.845,0.839,0.834,0.827,0.822,0.818,0.815,
  0.813,0.81,0.807,0.804,0.801,0.799,0.798,0.795,0.792,0.789,
  0.788,0.787,0.786,0.785,0.785,0.784];
var m32 = [0.826,0.83,0.832,0.834,0.836,0.837,0.839,0.842,0.839,0.844,
  0.841,0.844,0.846,0.848,0.85,0.853,0.857,0.865,0.863,0.861,
  0.858,0.855,0.851,0.847,0.842,0.836,0.83,0.824,0.82,0.816,
  0.814,0.811,0.808,0.805,0.802,0.80,0.797,0.796,0.793,0.79,
  0.788,0.787,0.786,0.785,0.784,0.785];
var v33 = [2.07,2.02,2.0,1.99,1.98,1.97,1.98,1.96,1.97,1.99,
  1.98,2.0,2.01,2.03,2.02,2.05,2.04,1.905,2.06,2.08,
  2.09,2.07,2.1,2.12,2.09,2.11,2.13,2.1,2.12,2.14,
  2.16,2.19,2.23,2.28,2.36,2.42,2.44,2.41,2.45,2.43,
  2.46,2.44,2.49,2.56,2.58,2.6,2.62,2.6,2.64,2.66,
  2.63,2.68,2.7,2.69,2.72,2.74];
var m33 = [1.96,2.01,1.99,2.04,2.0,2.03,2.06,2.02,2.05,2.04,
  2.1,2.06,2.11,2.08,2.13,2.1,2.12,2.09,2.13,2.11,
  2.15,2.17,2.21,2.25,2.32,2.39,2.45,2.42,2.43,2.46,
  2.42,2.45,2.47,2.53,2.57,2.59,2.61,2.63,2.62,2.65,
  2.64,2.67,2.69,2.71,2.7,2.73];
var v34 = [2.16,2.135,2.11,2.08,2.06,2.04,2.01,1.985,1.955,1.93,
  1.895,1.878,1.868,1.862,1.856,1.852,1.85,1.845,1.858,1.85,
  1.842,1.835,1.83,1.815,1.8,1.785,1.76,1.742,1.765,1.775,
  1.788,1.8,1.825,1.86,1.9,1.945,1.985,2.01,2.03,2.045,
  2.065,2.08,2.09,2.105,2.115,2.13,2.145,2.16,2.17,2.18,
  2.187,2.195,2.2,2.208,2.213,2.218];
var m34 = [1.91,1.885,1.872,1.865,1.858,1.854,1.848,1.853,1.85,1.855,
  1.846,1.838,1.832,1.822,1.808,1.792,1.772,1.75,1.755,1.77,
  1.782,1.794,1.812,1.842,1.88,1.922,1.965,1.998,2.02,2.038,
  2.055,2.072,2.085,2.098,2.11,2.122,2.138,2.152,2.165,2.175,
  2.184,2.19,2.198,2.204,2.21,2.215];
var v35 = [0.633,0.592,0.575,0.565,0.558,0.55,0.545,0.535,0.528,0.522,
  0.51,0.505,0.498,0.495,0.502,0.49,0.51,0.525,0.505,0.53,
  0.515,0.535,0.52,0.53,0.51,0.525,0.468,0.515,0.53,0.54,
  0.55,0.565,0.585,0.61,0.63,0.65,0.67,0.69,0.705,0.72,
  0.735,0.745,0.765,0.78,0.795,0.8,0.81,0.815,0.82,0.83,
  0.835,0.84,0.845,0.855,0.86,0.865];
var m35 = [0.515,0.5,0.495,0.505,0.488,0.51,0.5,0.518,0.512,0.52,
  0.525,0.51,0.525,0.505,0.528,0.515,0.52,0.505,0.52,0.535,
  0.545,0.558,0.575,0.598,0.62,0.64,0.66,0.68,0.70,0.71,
  0.73,0.74,0.755,0.775,0.785,0.79,0.805,0.82,0.81,0.825,
  0.84,0.83,0.85,0.845,0.86,0.87];

var yDomains = [
  [4.90, 6.50], [1.20, 1.68], [9.38, 12.58], [3.851, 3.910], [25.40, 31.35],
  [0.14, 0.16], [1.20, 1.60], [0.256, 0.50], [-0.435, -0.195], [2.20, 2.60],
  [1.752, 1.928], [18.85, 25.18], [7.50, 7.737], [0.80, 1.004], [0.213, 0.2604],
  [1.60, 2.00], [3.9459, 3.9553], [26.0, 32.75], [0.02794, 0.03303], [0.069, 0.30],
  [0.12, 0.20], [-1.0, 0.5], [1.80, 1.84], [1.32, 2.635], [0.02667, 0.03201],
  [7.0, 7.685], [1.20, 1.605], [0.29, 0.401], [11.76, 18.13], [0.638, 0.80],
  [22.15, 30.05], [0.782, 0.8665], [1.905, 2.76], [1.735, 2.22], [0.40, 0.875]
];
var yTicks = [
  [5, 5.5, 6, 6.5], [1.2, 1.4, 1.6], [10, 11, 12], [3.86, 3.88, 3.90], [26, 28, 30],
  [0.14, 0.15, 0.16], [1.2, 1.4, 1.6], [0.3, 0.4, 0.5], [-0.4, -0.3, -0.2], [2.2, 2.4, 2.6],
  [1.80, 1.85, 1.90], [20, 22, 24], [7.5, 7.6, 7.7], [0.8, 0.9, 1.0], [0.22, 0.24, 0.26],
  [1.6, 1.8, 2.0], [3.946, 3.950, 3.954], [26, 28, 30, 32], [0.028, 0.030, 0.032], [0.1, 0.2, 0.3],
  [0.12, 0.14, 0.16, 0.18, 0.20], [-1, -0.5, 0, 0.5], [1.80, 1.82, 1.84], [1.5, 2.0, 2.5], [0.027, 0.029, 0.031],
  [7.0, 7.2, 7.4, 7.6], [1.2, 1.4, 1.6], [0.30, 0.35, 0.40], [12, 14, 16, 18], [0.65, 0.70, 0.75, 0.80],
  [24, 26, 28, 30], [0.80, 0.82, 0.84, 0.86], [2.0, 2.2, 2.4, 2.6], [1.8, 2.0, 2.2], [0.4, 0.6, 0.8]
];
var series = [v1,v2,v3,v4,v5,v6,v7,v8,v9,v10,v11,v12,v13,v14,v15,v16,v17,v18,v19,v20,
  v21,v22,v23,v24,v25,v26,v27,v28,v29,v30,v31,v32,v33,v34,v35];
var extras = [m1,m2,m3,m4,m5,m6,n7,m8,n9,m10,n11,m12,m13,m14,m15,m16,n17,m18,n19,n20,
  m21,n22,m23,n24,m25,n26,m27,m28,m29,m30,m31,m32,m33,m34,m35];

var cbTicks = [0, 50, 100, 150, 200, 250, 300, 350];
var maxCycle = 388;

// colour map
var cmapStops = [
  [0, "#3d26a8"], [40, "#4435c9"], [75, "#4653e6"], [86, "#3c5fef"], [90, "#1668f0"],
  [110, "#0474e6"], [150, "#0488da"], [185, "#0895c8"], [205, "#049ab4"], [225, "#00a89a"],
  [238, "#00b47a"], [250, "#36ba72"], [268, "#84bb52"], [283, "#b4b82c"], [296, "#d4b006"],
  [308, "#f7b024"], [322, "#ffbb3a"], [340, "#ffc43a"], [355, "#ffcc18"], [388, "#fde800"]
];
var color = d3.scaleLinear()
    .domain(cmapStops.map(function(s) { return s[0]; }))
    .range(cmapStops.map(function(s) { return s[1]; }))
    .interpolate(d3.interpolateRgb)
    .clamp(true);

var width = 1198, height = 1651,
    colLeft = 63, colStep = 238, boxW = 178,
    rowTop = 39, rowStep = 220.67, boxH = 135;
var serif = "'Liberation Serif', 'DejaVu Serif', serif";

var svg = d3.select("#chart").append("svg")
    .attr("width", width)
    .attr("height", height);

var fmt = function(d) { return d3.format(".2f")(d).replace("\u2212", "-"); };

function gridFor(vals) {
  if (vals.length === cyc.length) return cyc;
  if (vals.length === cycMid.length) return cycMid;
  if (vals.length === cycDense.length) return cycDense;
  if (vals.length === cycDense2.length) return cycDense2;
  console.warn("no grid for length", vals.length);
  return cyc;
}

series.forEach(function(vals, i) {
  var col = i % 5, row = Math.floor(i / 5);
  var pts = [];
  [vals, extras[i]].forEach(function(arr) {
    var cx = gridFor(arr);
    arr.forEach(function(v, j) { pts.push({c: cx[j], v: v}); });
  });
  pts.sort(function(a, b) { return a.c - b.c; });

  var g = svg.append("g")
      .attr("transform", "translate(" + (colLeft + col * colStep) + "," + (rowTop + row * rowStep) + ")");

  var x = d3.scaleLinear().domain([0, 390]).range([0, boxW]);
  var y = d3.scaleLinear().domain(yDomains[i]).range([boxH, 0]);

  g.append("rect")
      .attr("width", boxW)
      .attr("height", boxH)
      .attr("fill", "none")
      .attr("stroke", "#262626")
      .attr("stroke-width", 2);

  var left = g.append("g")
      .call(d3.axisLeft(y).tickValues(yTicks[i]).tickSize(-4).tickPadding(7).tickFormat(fmt));
  var right = g.append("g")
      .attr("transform", "translate(" + boxW + ",0)")
      .call(d3.axisRight(y).tickValues(yTicks[i]).tickSize(-4).tickFormat(""));
  [left, right].forEach(function(a) {
    a.attr("font-family", null).attr("font-size", null);
    a.select(".domain").remove();
    a.selectAll("line").attr("stroke", "#262626").attr("stroke-width", 1.5);
    a.selectAll("text")
        .attr("fill", "#262626")
        .style("font-size", "20px")
        .style("font-family", serif);
  });

  g.append("g").selectAll("circle")
      .data(pts)
      .enter().append("circle")
      .attr("cx", function(d) { return x(d.c); })
      .attr("cy", function(d) { return y(d.v); })
      .attr("r", 2.9)
      .attr("fill", function(d) { return color(d.c); });

  g.append("text")
      .attr("x", boxW / 2)
      .attr("y", -12)
      .attr("text-anchor", "middle")
      .style("font-size", "21px")
      .text("No." + (i + 1));

  g.append("text")
      .attr("x", boxW / 2)
      .attr("y", boxH + 25)
      .attr("text-anchor", "middle")
      .style("font-size", "21px")
      .text("Cycles");
});

// colour bar
var cbX = 366, cbW = 486, cbY = 1583, cbH = 36;
var cbScale = d3.scaleLinear().domain([0, maxCycle]).range([cbX, cbX + cbW]);

var grad = svg.append("defs").append("linearGradient")
    .attr("id", "cb")
    .attr("x1", "0%").attr("x2", "100%").attr("y1", "0%").attr("y2", "0%");
grad.selectAll("stop")
    .data(cmapStops)
  .enter().append("stop")
    .attr("offset", function(d) { return (d[0] / maxCycle * 100) + "%"; })
    .attr("stop-color", function(d) { return d[1]; });

svg.append("rect")
    .attr("x", cbX).attr("y", cbY)
    .attr("width", cbW).attr("height", cbH)
    .attr("fill", "url(#cb)")
    .attr("stroke", "#262626")
    .attr("stroke-width", 2);

svg.append("g").selectAll("line")
    .data(cbTicks.slice(1))
  .enter().append("line")
    .attr("x1", function(d) { return cbScale(d); })
    .attr("x2", function(d) { return cbScale(d); })
    .attr("y1", cbY + cbH)
    .attr("y2", cbY + cbH - 5)
    .attr("stroke", "#262626")
    .attr("stroke-width", 1.5);

svg.append("g").selectAll("text")
    .data(cbTicks)
  .enter().append("text")
    .attr("x", function(d) { return cbScale(d); })
    .attr("y", 1643)
    .attr("text-anchor", "middle")
    .style("font-size", "17.5px")
    .text(function(d) { return d; });

svg.append("text")
    .attr("x", cbX + cbW / 2)
    .attr("y", 1571)
    .attr("text-anchor", "middle")
    .style("font-size", "24px")
    .text("Cycles");

</script>
